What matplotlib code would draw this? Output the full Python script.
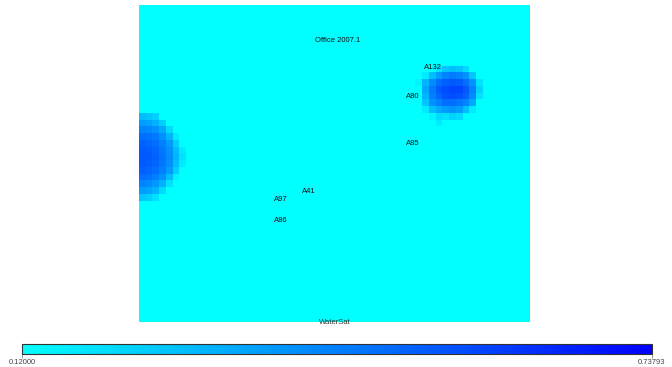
import numpy as np
import matplotlib
matplotlib.use("Agg")
import matplotlib.pyplot as plt
from matplotlib.colors import LinearSegmentedColormap

# Grid of the water-saturation map (rows x columns of cells)
n_rows, n_cols = 47, 58
vmin, vmax = 0.12000, 0.73793

# High-saturation zone on the west edge: rows 16-28, columns 0-6
west_row0, west_col0 = 16, 0
west_zone = [
    [0.28, 0.26, 0.23, 0.12, 0.12, 0.12, 0.12],
    [0.36, 0.34, 0.31, 0.24, 0.12, 0.12, 0.12],
    [0.42, 0.41, 0.39, 0.33, 0.21, 0.12, 0.12],
    [0.47, 0.46, 0.44, 0.39, 0.30, 0.17, 0.12],
    [0.50, 0.49, 0.47, 0.43, 0.36, 0.24, 0.12],
    [0.52, 0.51, 0.49, 0.45, 0.39, 0.28, 0.17],
    [0.52, 0.52, 0.50, 0.46, 0.40, 0.30, 0.19],
    [0.52, 0.51, 0.49, 0.45, 0.39, 0.28, 0.17],
    [0.50, 0.49, 0.47, 0.43, 0.36, 0.24, 0.12],
    [0.47, 0.46, 0.43, 0.38, 0.28, 0.15, 0.12],
    [0.42, 0.40, 0.37, 0.31, 0.19, 0.12, 0.12],
    [0.36, 0.34, 0.30, 0.21, 0.12, 0.12, 0.12],
    [0.26, 0.24, 0.19, 0.12, 0.12, 0.12, 0.12],
]

# High-saturation zone around well A80 / A132: rows 9-17, columns 41-50
east_row0, east_col0 = 9, 41
east_zone = [
    [0.12, 0.12, 0.12, 0.19, 0.26, 0.28, 0.26, 0.21, 0.12, 0.12],
    [0.12, 0.17, 0.28, 0.36, 0.42, 0.44, 0.42, 0.38, 0.26, 0.12],
    [0.15, 0.30, 0.40, 0.47, 0.51, 0.52, 0.51, 0.47, 0.38, 0.19],
    [0.12, 0.33, 0.44, 0.52, 0.55, 0.57, 0.57, 0.53, 0.42, 0.23],
    [0.12, 0.30, 0.43, 0.49, 0.54, 0.55, 0.54, 0.50, 0.40, 0.19],
    [0.12, 0.26, 0.38, 0.43, 0.47, 0.47, 0.45, 0.42, 0.33, 0.12],
    [0.12, 0.17, 0.28, 0.33, 0.36, 0.38, 0.36, 0.28, 0.17, 0.12],
    [0.12, 0.12, 0.15, 0.21, 0.19, 0.23, 0.21, 0.12, 0.12, 0.12],
    [0.12, 0.12, 0.12, 0.17, 0.12, 0.12, 0.12, 0.12, 0.12, 0.12],
]

# Well names and their positions in cell units (column, row)
well_names = ["A132", "A80", "A85", "A41", "A97", "A86"]
well_cols = [42.3, 39.6, 39.6, 24.2, 20.0, 20.0]
well_rows = [9.2, 13.5, 20.6, 27.7, 28.8, 31.9]

map_title = "Office 2007.1"
property_name = "WaterSat"

grid = np.full((n_rows, n_cols), vmin)
w = np.array(west_zone)
grid[west_row0:west_row0 + w.shape[0], west_col0:west_col0 + w.shape[1]] = w
e = np.array(east_zone)
grid[east_row0:east_row0 + e.shape[0], east_col0:east_col0 + e.shape[1]] = e

cmap = LinearSegmentedColormap.from_list("sat", ["#00ffff", "#0000ff"])

W, H = 672, 367
fig = plt.figure(figsize=(W / 100, H / 100), dpi=100)

# Map panel
ax = fig.add_axes([139 / W, 1 - 322 / H, 391 / W, 317 / H])
ax.imshow(grid, cmap=cmap, vmin=vmin, vmax=vmax, extent=[0, n_cols, n_rows, 0],
          interpolation="nearest", aspect="auto")
ax.set_xlim(0, n_cols)
ax.set_ylim(n_rows, 0)
ax.axis("off")

font = "Liberation Sans"
ax.text(29.4, 5.2, map_title, fontsize=5.5, family=font, ha="center", va="center", color="#111111")
for name, c, r in zip(well_names, well_cols, well_rows):
    ax.text(c, r, name, fontsize=5.5, family=font, ha="left", va="center", color="#111111")
ax.text(n_cols / 2, n_rows, property_name, fontsize=5.5, family=font,
        ha="center", va="center", color="#333333")

# Colour bar
cax = fig.add_axes([22 / W, 1 - 354 / H, 630 / W, 10 / H])
sm = matplotlib.cm.ScalarMappable(cmap=cmap, norm=matplotlib.colors.Normalize(vmin, vmax))
cb = fig.colorbar(sm, cax=cax, orientation="horizontal")
cb.set_ticks([vmin, vmax])
cb.set_ticklabels([f"{vmin:.5f}", f"{vmax:.5f}"])
cb.outline.set_edgecolor("#333333")
cb.outline.set_linewidth(0.8)
cax.tick_params(length=3, width=0.6, color="#888888", labelsize=5.5, labelcolor="#444444", pad=0.5)
for lbl in cax.get_xticklabels():
    lbl.set_family(font)

fig.savefig("out.png", dpi=100)
